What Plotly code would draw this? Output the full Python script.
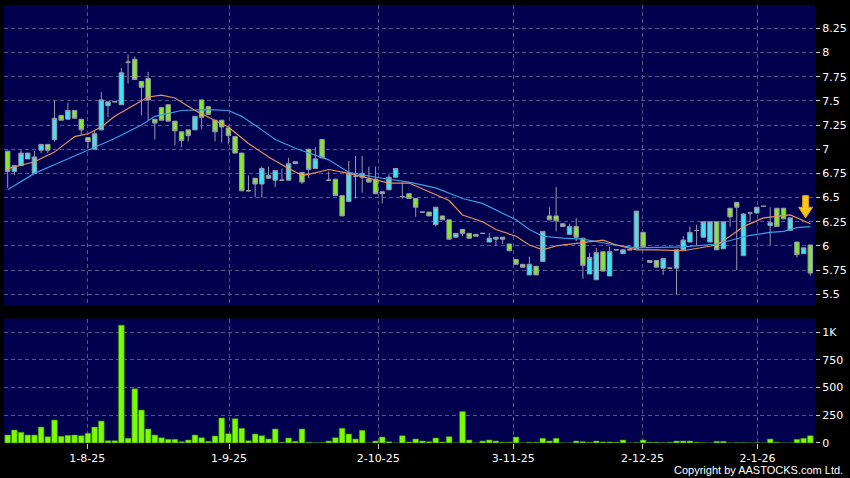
import plotly.graph_objects as go

# daily OHLC, one candle per trading day (index 0..120)
opens = [6.98, 6.77, 6.83, 6.90, 6.75, 6.99, 7.05, 7.10, 7.35, 7.31,
         7.40, 7.31, 7.12, 7.00, 7.20, 7.45, 7.49, 7.46, 7.90, 7.93,
         7.70, 7.73, 7.31, 7.43, 7.46, 7.29, 7.18, 7.20, 7.20, 7.51,
         7.44, 7.30, 7.30, 7.22, 7.13, 6.96, 6.57, 6.70, 6.64, 6.70,
         6.68, 6.68, 6.68, 6.85, 6.76, 7.00, 6.80, 7.10, 6.68, 6.69,
         6.52, 6.46, 6.72, 6.75, 6.69, 6.69, 6.56, 6.58, 6.71, 6.51,
         6.54, 6.49, 6.35, 6.35, 6.22, 6.31, 6.27, 6.09, 6.17, 6.13,
         6.10, 6.13, 6.04, 6.07, 6.07, 6.02, 5.86, 5.81, 5.70, 5.79,
         5.84, 6.31, 6.31, 6.20, 6.12, 6.20, 6.08, 5.71, 5.65, 5.94,
         5.69, 5.96, 5.92, 5.96, 5.97, 6.14, 5.83, 5.85, 5.77, 5.77,
         5.77, 5.96, 6.04, 6.16, 6.09, 6.04, 6.25, 5.97, 6.39, 6.45,
         5.90, 6.34, 6.34, 6.41, 6.21, 6.39, 6.39, 6.16, 6.04, 5.92,
         6.01]
highs = [6.98, 6.83, 6.99, 6.96, 6.98, 7.05, 7.05, 7.50, 7.35, 7.48,
         7.40, 7.31, 7.12, 7.20, 7.59, 7.49, 7.49, 7.84, 7.98, 7.96,
         7.70, 7.80, 7.31, 7.43, 7.46, 7.29, 7.18, 7.20, 7.34, 7.51,
         7.44, 7.30, 7.30, 7.22, 7.13, 6.96, 6.73, 6.70, 6.82, 6.82,
         6.78, 6.80, 6.91, 6.87, 6.76, 7.00, 7.02, 7.10, 6.77, 6.69,
         6.52, 6.88, 6.93, 6.93, 6.82, 6.82, 6.56, 6.74, 6.80, 6.65,
         6.54, 6.49, 6.35, 6.35, 6.40, 6.31, 6.27, 6.13, 6.17, 6.13,
         6.12, 6.13, 6.13, 6.09, 6.09, 6.02, 5.86, 5.81, 5.89, 5.79,
         6.15, 6.40, 6.61, 6.23, 6.23, 6.29, 6.08, 5.93, 5.98, 5.94,
         5.99, 5.96, 5.96, 5.96, 6.36, 6.14, 5.85, 5.85, 5.87, 5.77,
         5.96, 6.10, 6.20, 6.22, 6.25, 6.25, 6.25, 6.25, 6.39, 6.45,
         6.34, 6.34, 6.40, 6.41, 6.40, 6.39, 6.39, 6.29, 6.04, 5.98,
         6.01]
lows = [6.60, 6.73, 6.83, 6.90, 6.75, 6.96, 6.96, 7.08, 7.30, 7.31,
        7.32, 7.15, 7.01, 7.00, 7.20, 7.33, 7.49, 7.46, 7.68, 7.72,
        7.35, 7.30, 7.10, 7.30, 7.29, 7.04, 7.02, 7.08, 7.20, 7.21,
        7.36, 7.08, 7.07, 7.05, 6.96, 6.57, 6.57, 6.50, 6.50, 6.70,
        6.61, 6.68, 6.68, 6.85, 6.64, 6.70, 6.80, 6.91, 6.68, 6.52,
        6.31, 6.46, 6.49, 6.55, 6.66, 6.54, 6.44, 6.58, 6.71, 6.49,
        6.49, 6.30, 6.35, 6.31, 6.20, 6.27, 6.07, 6.09, 6.10, 6.08,
        6.10, 6.13, 6.04, 6.00, 6.02, 5.95, 5.81, 5.78, 5.70, 5.70,
        5.84, 6.27, 6.15, 6.20, 6.12, 6.05, 5.66, 5.71, 5.65, 5.74,
        5.69, 5.96, 5.92, 5.96, 5.97, 5.99, 5.83, 5.78, 5.70, 5.77,
        5.50, 5.96, 6.04, 6.00, 6.09, 6.04, 5.96, 5.97, 6.20, 5.75,
        5.90, 6.25, 6.34, 6.41, 6.01, 6.20, 6.28, 6.16, 5.88, 5.92,
        5.69]
closes = [6.77, 6.83, 6.96, 6.96, 6.92, 7.05, 6.99, 7.32, 7.30, 7.40,
          7.32, 7.20, 7.08, 7.16, 7.51, 7.49, 7.49, 7.79, 7.90, 7.72,
          7.64, 7.51, 7.27, 7.30, 7.29, 7.19, 7.09, 7.14, 7.34, 7.33,
          7.36, 7.18, 7.23, 7.14, 6.96, 6.57, 6.57, 6.64, 6.80, 6.73,
          6.78, 6.68, 6.85, 6.87, 6.66, 6.79, 6.90, 6.91, 6.68, 6.52,
          6.31, 6.75, 6.72, 6.71, 6.66, 6.54, 6.54, 6.71, 6.80, 6.51,
          6.49, 6.40, 6.35, 6.31, 6.40, 6.27, 6.07, 6.13, 6.13, 6.08,
          6.12, 6.13, 6.08, 6.09, 6.09, 5.95, 5.81, 5.78, 5.81, 5.70,
          6.15, 6.27, 6.26, 6.23, 6.20, 6.09, 5.80, 5.88, 5.93, 5.74,
          5.94, 5.96, 5.96, 5.96, 6.36, 5.99, 5.85, 5.78, 5.87, 5.77,
          5.96, 6.06, 6.14, 6.16, 6.25, 6.25, 5.96, 6.25, 6.30, 6.40,
          6.33, 6.34, 6.40, 6.41, 6.24, 6.20, 6.28, 6.29, 5.91, 5.98,
          5.72]
volumes = [72, 117, 96, 72, 72, 144, 57, 207, 60, 69,
           72, 66, 87, 144, 198, 21, 21, 1063, 42, 489,
           297, 126, 72, 48, 33, 33, 12, 27, 72, 48,
           15, 63, 225, 84, 219, 132, 21, 81, 66, 36,
           126, 6, 45, 15, 126, 6, 2, 3, 18, 48,
           132, 81, 36, 114, 1, 18, 54, 12, 1, 66,
           9, 36, 18, 12, 45, 9, 57, 1, 285, 27,
           1, 18, 27, 18, 6, 6, 54, 0, 6, 6,
           42, 18, 42, 0, 1, 18, 12, 6, 18, 9,
           9, 6, 27, 0, 3, 27, 6, 6, 3, 6,
           18, 18, 18, 6, 3, 0, 15, 15, 1, 2,
           3, 1, 2, 1, 36, 6, 1, 1, 33, 42,
           66]
days = list(range(len(closes)))

# moving average lines
ma_short_x = [0, 4, 7, 10, 12, 14, 16, 19, 21, 23, 25, 28, 31, 33, 36, 39, 42, 44, 45,
              48, 51, 54, 57, 60, 63, 66, 68, 71, 73, 76, 78, 80, 82, 86, 89, 91, 94,
              97, 101, 106, 108, 110, 113, 117, 120]
ma_short_y = [6.80, 6.87, 6.97, 7.13, 7.16, 7.23, 7.34, 7.46, 7.54, 7.56, 7.53, 7.40,
              7.30, 7.23, 7.06, 6.92, 6.80, 6.73, 6.74, 6.79, 6.75, 6.70, 6.65, 6.65,
              6.56, 6.47, 6.32, 6.25, 6.17, 6.10, 6.01, 5.96, 6.00, 6.03, 6.06, 6.01,
              5.96, 5.96, 5.95, 6.01, 6.10, 6.20, 6.29, 6.32, 6.23]
ma_long_x = [0, 4, 8, 12, 16, 20, 22, 26, 30, 33, 35, 38, 40, 43, 45, 48, 51, 56, 60,
             64, 68, 71, 76, 78, 80, 83, 86, 90, 94, 101, 106, 109, 111, 114, 116, 118, 120]
ma_long_y = [6.58, 6.75, 6.87, 6.99, 7.11, 7.25, 7.34, 7.40, 7.41, 7.40, 7.34, 7.20,
             7.10, 7.01, 6.96, 6.89, 6.76, 6.70, 6.66, 6.60, 6.49, 6.44, 6.27, 6.17,
             6.10, 6.08, 6.07, 6.02, 5.98, 5.99, 6.02, 6.07, 6.11, 6.14, 6.15, 6.19, 6.20]

date_pos = [11.9, 33.1, 55.4, 75.6, 94.9, 112.1]
date_labels = ["1-8-25", "1-9-25", "2-10-25", "3-11-25", "2-12-25", "2-1-26"]
price_ticks = [5.5, 5.75, 6, 6.25, 6.5, 6.75, 7, 7.25, 7.5, 7.75, 8, 8.25]
vol_ticks = [0, 250, 500, 750, 1000]
vol_labels = ["0", "250", "500", "750", "1K"]

CYAN = "#3fe3f0"
LIME = "#84e830"
WICK = "#9a9aa8"
GRID = "#55558a"
FONT = "DejaVu Sans"

fig = go.Figure()

fig.add_trace(go.Candlestick(
    x=days, open=opens, high=highs, low=lows, close=closes,
    increasing=dict(fillcolor=CYAN, line=dict(color=WICK, width=1)),
    decreasing=dict(fillcolor=LIME, line=dict(color=WICK, width=1)),
    whiskerwidth=0, showlegend=False, xaxis="x", yaxis="y",
))
fig.add_trace(go.Scatter(x=ma_long_x, y=ma_long_y, mode="lines",
                         line=dict(color="#3b9fe0", width=1.2),
                         showlegend=False, xaxis="x", yaxis="y"))
fig.add_trace(go.Scatter(x=ma_short_x, y=ma_short_y, mode="lines",
                         line=dict(color="#e8905a", width=1.2),
                         showlegend=False, xaxis="x", yaxis="y"))

fig.add_trace(go.Bar(x=days, y=volumes, marker=dict(color="#7cfc00",
                     line=dict(color="#3d8a10", width=0.6)),
                     showlegend=False, xaxis="x2", yaxis="y2"))

# yellow down arrow marker near the last candle
ax, ay = 119.3, 6.29
fig.add_shape(type="path", xref="x", yref="y",
              path=(f"M {ax-0.45},{ay+0.23} L {ax+0.45},{ay+0.23} L {ax+0.45},{ay+0.11} "
                    f"L {ax+1.05},{ay+0.11} L {ax},{ay} L {ax-1.05},{ay+0.11} "
                    f"L {ax-0.45},{ay+0.11} Z"),
              fillcolor="#f9c81e", line=dict(color="#e39a10", width=1))

x_range = [-0.55, 120.7]
grid_common = dict(showgrid=True, gridcolor=GRID, griddash="4px,3px", gridwidth=1,
                   zeroline=False, showline=False)

fig.update_layout(
    width=850, height=478,
    margin=dict(l=4, r=35, t=5, b=35),
    paper_bgcolor="black", plot_bgcolor="#00004e",
    font=dict(family=FONT, color="white", size=10),
    bargap=0.15, boxgap=0.05,
    xaxis=dict(domain=[0, 1], anchor="y", range=x_range, tickvals=date_pos,
               showticklabels=False, ticks="", rangeslider=dict(visible=False),
               **grid_common),
    xaxis2=dict(domain=[0, 1], anchor="y2", range=x_range, matches="x",
                tickvals=date_pos, ticktext=date_labels, ticks="outside",
                ticklen=5, tickcolor="#cccccc", tickfont=dict(size=11),
                **grid_common),
    yaxis=dict(domain=[0.315, 1], side="right", range=[5.389, 8.491],
               tickvals=price_ticks, ticktext=[f"{v:g}" for v in price_ticks],
               ticks="outside", ticklen=4, tickcolor="#cccccc",
               tickfont=dict(size=11), **grid_common),
    yaxis2=dict(domain=[0, 0.284], side="right", range=[0, 1122],
                tickvals=vol_ticks, ticktext=vol_labels,
                ticks="outside", ticklen=4, tickcolor="#cccccc",
                tickfont=dict(size=11), **grid_common),
    annotations=[dict(text="Copyright by AASTOCKS.com Ltd.", xref="paper", yref="paper",
                      x=1.037, y=-0.062, xanchor="right", yanchor="middle",
                      showarrow=False, font=dict(family="Liberation Sans", size=11,
                                                 color="white"))],
)

fig.write_html("out.html", config={"displayModeBar": False},
               post_script="document.body.style.margin='0px';")
